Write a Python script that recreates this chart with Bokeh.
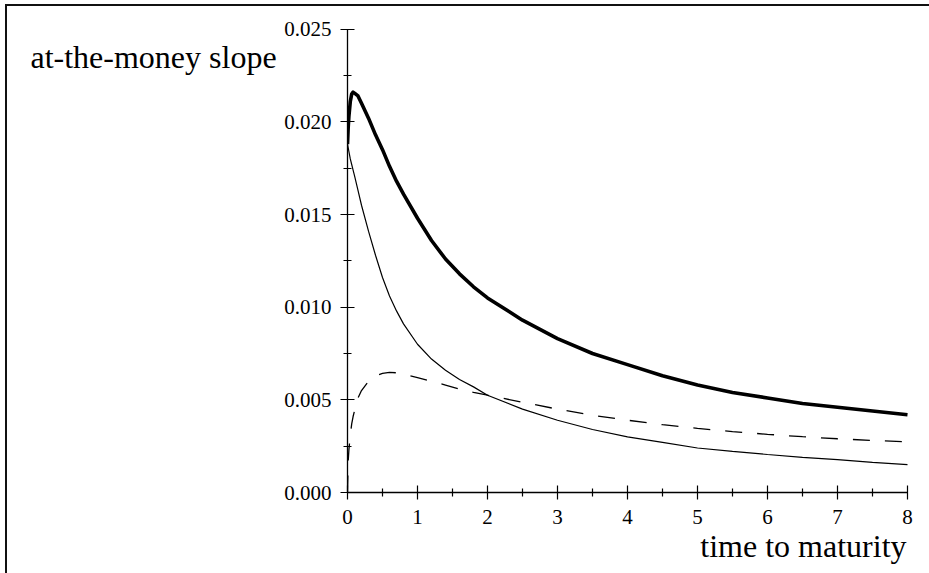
from bokeh.plotting import figure
from bokeh.models import Label, FixedTicker, Range1d
from bokeh.embed import file_html
from bokeh.resources import INLINE

# ---- data ----
t = [0, 0.01, 0.02, 0.04, 0.06, 0.08, 0.1, 0.15, 0.2, 0.3, 0.4, 0.5, 0.6, 0.7, 0.8,
     1.0, 1.2, 1.4, 1.6, 1.8, 2.0, 2.5, 3.0, 3.5, 4.0, 4.5, 5.0, 5.5, 6.0, 6.5, 7.0, 7.5, 8.0]
total_slope = [0.0188, 0.0197, 0.0203, 0.0211, 0.0215, 0.0216, 0.02155, 0.0214, 0.0210, 0.0202,
               0.0193, 0.0185, 0.0176, 0.0168, 0.0161, 0.0148, 0.0136, 0.0126, 0.0118, 0.0111,
               0.0105, 0.0093, 0.0083, 0.0075, 0.0069, 0.0063, 0.0058, 0.0054, 0.0051, 0.0048,
               0.0046, 0.0044, 0.0042]
thin_slope = [0.0188, 0.0186, 0.0184, 0.0180, 0.0177, 0.0174, 0.0171, 0.0163, 0.0155, 0.0141,
              0.0128, 0.0116, 0.0106, 0.0098, 0.0091, 0.0080, 0.0072, 0.0066, 0.0061, 0.0057,
              0.00525, 0.0045, 0.0039, 0.0034, 0.0030, 0.0027, 0.0024, 0.00222, 0.00205, 0.0019,
              0.00177, 0.00163, 0.0015]
dashed_slope = [0.0, 0.0017, 0.0023, 0.0031, 0.0037, 0.0041, 0.0044, 0.0051, 0.0055, 0.0060,
                0.0063, 0.00643, 0.00648, 0.00646, 0.00638, 0.0062, 0.0060, 0.0058, 0.00558, 0.0054,
                0.00525, 0.00487, 0.00450, 0.00417, 0.0039, 0.00366, 0.00346, 0.00329, 0.00314,
                0.00301, 0.0029, 0.00281, 0.00273]

x_ticks = [0, 1, 2, 3, 4, 5, 6, 7, 8]
x_tick_labels = ["0", "1", "2", "3", "4", "5", "6", "7", "8"]
x_minor = [0.5, 1.5, 2.5, 3.5, 4.5, 5.5, 6.5, 7.5]
y_ticks = [0.0, 0.005, 0.010, 0.015, 0.020, 0.025]
y_tick_labels = ["0.000", "0.005", "0.010", "0.015", "0.020", "0.025"]
y_minor = [0.0025, 0.0075, 0.0125, 0.0175, 0.0225]

y_title = "at-the-money slope"
x_title = "time to maturity"

FONT = "Liberation Serif"

W, H = 929, 573
left, right, top, bottom = 347, 16, 22, 81
px_x = 70.0
px_y = 18532.0
fw = W - left - right
fh = H - top - bottom

p = figure(width=W, height=H, output_backend="svg", toolbar_location=None,
           x_range=Range1d(0, fw / px_x), y_range=Range1d(0, fh / px_y),
           min_border_left=left, min_border_right=right,
           min_border_top=top, min_border_bottom=bottom)
p.outline_line_color = None
p.grid.visible = False
p.background_fill_color = "white"
p.border_fill_color = None
p.styles = {
    "background-color": "white",
    "background-image": "linear-gradient(#111, #111), linear-gradient(#111, #111)",
    "background-position": "5px 4px, 5px 4px",
    "background-size": "924px 2px, 2px 569px",
    "background-repeat": "no-repeat",
}

for ax in (p.xaxis[0], p.yaxis[0]):
    ax.axis_line_color = "black"
    ax.axis_line_width = 1.3
    ax.major_tick_line_color = "black"
    ax.minor_tick_line_color = "black"
    ax.major_tick_line_width = 1.2
    ax.minor_tick_line_width = 1.2
    ax.major_tick_in = 7
    ax.major_tick_out = 7
    ax.minor_tick_in = 4
    ax.minor_tick_out = 4
    ax.major_label_text_font = FONT
    ax.major_label_text_font_size = "21px"
    ax.major_label_text_color = "black"

p.xaxis[0].ticker = FixedTicker(ticks=x_ticks, minor_ticks=x_minor)
p.xaxis[0].major_label_overrides = dict(zip(x_ticks, x_tick_labels))
p.xaxis[0].bounds = (x_ticks[0], x_ticks[-1])
p.xaxis[0].major_label_standoff = 10

p.yaxis[0].ticker = FixedTicker(ticks=y_ticks, minor_ticks=y_minor)
p.yaxis[0].major_label_overrides = dict(zip(y_ticks, y_tick_labels))
p.yaxis[0].bounds = (y_ticks[0], y_ticks[-1])
p.yaxis[0].major_label_standoff = 9

p.line(t, thin_slope, line_color="black", line_width=1.2)
p.line(t, dashed_slope, line_color="black", line_width=1.3, line_dash="17 15")
p.line(t, total_slope, line_color="black", line_width=3.6, line_join="round")

p.add_layout(Label(x=-4.529, y=0.02349, text=y_title, text_font=FONT,
                   text_font_size="32px", text_color="black",
                   text_baseline="alphabetic", text_align="left"), "left")
p.add_layout(Label(x=7.986, y=-0.00286, text=x_title, text_font=FONT,
                   text_font_size="32px", text_color="black",
                   text_baseline="alphabetic", text_align="right"), "below")

open("out.html", "w").write(file_html(p, INLINE))
